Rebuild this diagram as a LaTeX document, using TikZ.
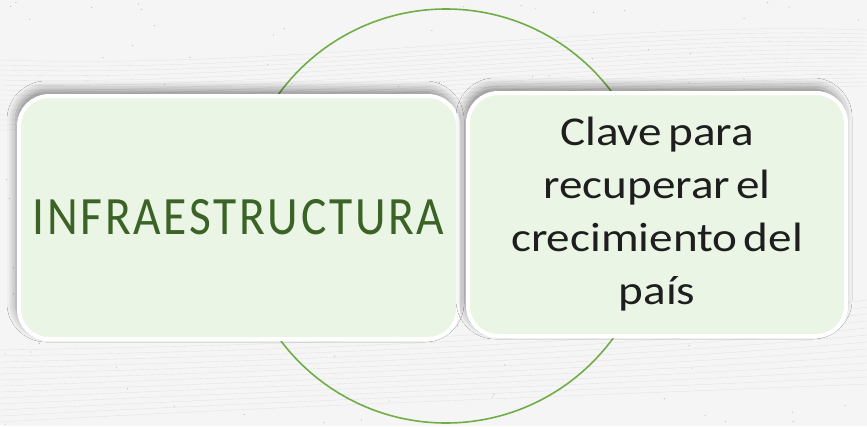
\documentclass[tikz,border=0pt]{standalone}
\usepackage{fontspec}
\setmainfont{Carlito}
\newfontfamily\infrafont[FakeStretch=0.88,LetterSpace=5]{Carlito}
\newfontfamily\clavefont[FakeStretch=1.15,WordSpace=0.6]{Carlito}
\usetikzlibrary{shadows.blur}
\definecolor{fondo}{HTML}{F5F5F5}
\definecolor{verdecaja}{HTML}{EBF5E5}
\definecolor{verdearco}{HTML}{70AD47}
\definecolor{verdetexto}{HTML}{3B6326}
\definecolor{textoosc}{HTML}{1E1E1E}
\tikzset{caja/.style={draw=white,line width=4pt,fill=verdecaja,rounded corners=30pt,
    blur shadow={shadow xshift=-3pt,shadow yshift=6pt,shadow blur radius=9pt,shadow opacity=45}},
  onda/.style={gray!25,line width=0.3pt}}

\begin{document}
\begin{tikzpicture}[x=1pt,y=-1pt]
  \fill[fondo] (0,0) rectangle (867,426);
  \useasboundingbox (0,0) rectangle (867,426);
  % texture
  \foreach \i in {0,...,14}
    \draw[onda] (0,60+5*\i)..controls (300,70+4*\i) and (600,20+5*\i)..(867,30+4*\i);
  \foreach \i in {0,...,12}
    \draw[onda] (0,350+6*\i)..controls (300,345+5*\i) and (600,335+5*\i)..(867,300+7*\i);
  \pgfmathsetseed{11}
  \foreach \k in {1,...,160}
    \fill[gray!55] ({rnd*867},{rnd*426}) circle [radius=0.6pt];
  \draw[verdearco,line width=1.6pt] (446,216) circle [radius=207pt];
  \node[caja,minimum width=439pt,minimum height=243pt] (infra) at (238.5,217.5)
    {\infrafont\fontsize{54}{60}\selectfont\color{verdetexto}INFRAESTRUCTURA};
  \node[caja,minimum width=378pt,minimum height=243pt,align=center,text=textoosc,
    font=\clavefont\fontsize{41}{53}\selectfont] (clave) at (657,214.5)
    {Clave para\\recuperar el\\crecimiento del\\país};
\end{tikzpicture}
\end{document}
